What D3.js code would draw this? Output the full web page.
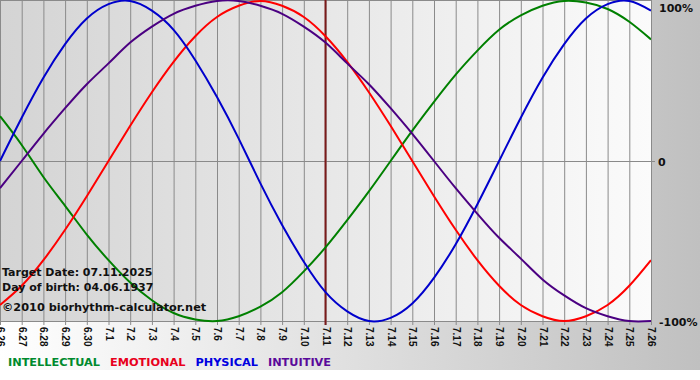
<!DOCTYPE html>
<head>
    <meta charset="utf-8">
    <title>Biorhythm</title>
    <script src="https://cdnjs.cloudflare.com/ajax/libs/d3/7.8.5/d3.min.js"></script>
    <style>
        body { margin: 0; background: #fff; }
        svg { display: block; font-family: "DejaVu Sans", Verdana, sans-serif; }
        .tick line { stroke: #8a8a8a; }
        .tick text { font-size: 10px; font-weight: bold; fill: #111; }
        .lbl { font-weight: bold; font-size: 11px; fill: #111; }
    </style>
</head>
<body>
    <div id="container"></div>
    <script>
        //------------------------DATA------------------------//
        var days = ["6.26", "6.27", "6.28", "6.29", "6.30", "7.1", "7.2", "7.3", "7.4", "7.5", "7.6", "7.7", "7.8", "7.9", "7.10",
            "7.11", "7.12", "7.13", "7.14", "7.15", "7.16", "7.17", "7.18", "7.19", "7.20", "7.21", "7.22", "7.23", "7.24", "7.25", "7.26"]
        var target = "7.11"

        var intellectual = [0.28, 0.10, -0.10, -0.28, -0.46, -0.62, -0.76, -0.87, -0.95, -0.99, -1.00, -0.97, -0.91, -0.82, -0.69, -0.54,
            -0.37, -0.19, 0.00, 0.19, 0.37, 0.54, 0.69, 0.82, 0.91, 0.97, 1.00, 0.99, 0.95, 0.87, 0.76]
        var emotional = [-0.90, -0.78, -0.62, -0.43, -0.22, 0.00, 0.22, 0.43, 0.62, 0.78, 0.90, 0.97, 1.00, 0.97, 0.90, 0.78,
            0.62, 0.43, 0.22, 0.00, -0.22, -0.43, -0.62, -0.78, -0.90, -0.97, -1.00, -0.97, -0.90, -0.78, -0.62]
        var physical = [0.00, 0.27, 0.52, 0.73, 0.89, 0.98, 1.00, 0.94, 0.82, 0.63, 0.40, 0.14, -0.14, -0.40, -0.63, -0.82,
            -0.94, -1.00, -0.98, -0.89, -0.73, -0.52, -0.27, 0.00, 0.27, 0.52, 0.73, 0.89, 0.98, 1.00, 0.94]
        var intuitive = [-0.17, 0.00, 0.17, 0.33, 0.48, 0.61, 0.74, 0.84, 0.92, 0.97, 1.00, 1.00, 0.97, 0.92, 0.84, 0.74,
            0.61, 0.48, 0.33, 0.17, 0.00, -0.17, -0.33, -0.48, -0.61, -0.74, -0.84, -0.92, -0.97, -1.00, -1.00]

        var seriesNames = ["INTELLECTUAL", "EMOTIONAL", "PHYSICAL", "INTUITIVE"]
        var seriesValues = [intellectual, emotional, physical, intuitive]
        var yTicks = [1, 0, -1]
        var yTickLabels = ["100%", "0", "-100%"]
        var infoLines = ["Target Date: 07.11.2025", "Day of birth: 04.06.1937", "\u00a92010 biorhythm-calculator.net"]

        //------------------------SETUP------------------------//
        var W = 700, H = 380,
            plotW = 651, plotH = 321,
            colors = ["#008000", "#ff0000", "#0000cc", "#4b0082"],
            legendColors = ["#008a2e", "#e8001c", "#0000e0", "#5a0a9a"]

        var svg = d3.select("#container").append("svg").attr("width", W).attr("height", H)
        var defs = svg.append("defs")

        var outer = defs.append("linearGradient").attr("id", "outerGrad")
        outer.append("stop").attr("offset", "0%").attr("stop-color", "#ffffff")
        outer.append("stop").attr("offset", "100%").attr("stop-color", "#c0c0c0")

        var inner = defs.append("linearGradient").attr("id", "innerGrad")
        inner.append("stop").attr("offset", "0%").attr("stop-color", "#d4d4d4")
        inner.append("stop").attr("offset", "100%").attr("stop-color", "#fbfbfb")

        svg.append("rect").attr("width", W).attr("height", 370).attr("fill", "url(#outerGrad)")
        svg.append("rect").attr("width", plotW).attr("height", plotH).attr("fill", "url(#innerGrad)")

        var x = d3.scaleLinear().domain([0, days.length - 1]).range([0, plotW])
        var y = d3.scaleLinear().domain([-1, 1]).range([plotH, 1])

        //------------------------AXES------------------------//
        var xaxis = d3.axisBottom(x)
            .tickValues(d3.range(days.length))
            .tickFormat(function (d) { return days[d]; })
            .tickSize(-(plotH + 4))

        var gx = svg.append("g").attr("transform", "translate(0," + (plotH + 4) + ")").call(xaxis)
        gx.select(".domain").remove()
        gx.selectAll(".tick text")
            .attr("transform", "rotate(90)")
            .attr("x", 2).attr("y", 0).attr("dy", "0.35em")
            .style("text-anchor", "start")

        // frame + zero line
        svg.append("line").attr("x1", 0).attr("x2", plotW).attr("y1", 0.5).attr("y2", 0.5).attr("stroke", "#8a8a8a")
        svg.append("line").attr("x1", 0).attr("x2", plotW).attr("y1", plotH + 0.5).attr("y2", plotH + 0.5).attr("stroke", "#8a8a8a")
        svg.append("line").attr("x1", 0).attr("x2", plotW + 4).attr("y1", y(0) + 0.5).attr("y2", y(0) + 0.5).attr("stroke", "#8a8a8a")

        svg.selectAll(".ylab")
            .data(yTicks)
            .enter()
            .append("text")
            .attr("class", "lbl")
            .attr("x", function (d) { return d === 0 ? plotW + 7 : plotW + 8; })
            .attr("y", function (d) { return d === 1 ? y(d) + 11 : y(d) + 5; })
            .text(function (d, i) { return yTickLabels[i]; })

        // target day
        var ti = days.indexOf(target)
        svg.append("line")
            .attr("x1", x(ti)).attr("x2", x(ti))
            .attr("y1", 0).attr("y2", plotH + 4)
            .attr("stroke", "#7a1a1a").attr("stroke-width", 2)

        //------------------------LINES------------------------//
        var line = d3.line()
            .x(function (d, i) { return x(i); })
            .y(function (d) { return y(d); })
            .curve(d3.curveNatural)

        var plot = svg.append("g")
        plot.append("clipPath").attr("id", "clip")
            .append("rect").attr("x", 0).attr("y", -2).attr("width", plotW).attr("height", plotH + 4)

        plot.selectAll(".bio")
            .data(seriesValues)
            .enter()
            .append("path")
            .attr("class", "bio")
            .attr("clip-path", "url(#clip)")
            .attr("d", line)
            .attr("fill", "none")
            .attr("stroke-width", 2)
            .attr("stroke", function (d, i) { return colors[i]; })

        //------------------------TEXT------------------------//
        svg.selectAll(".info")
            .data(infoLines)
            .enter()
            .append("text")
            .attr("class", "lbl")
            .attr("x", 2)
            .attr("y", function (d, i) { return [276, 291, 311][i]; })
            .style("font-size", function (d, i) { return i == 2 ? "11.3px" : "11px"; })
            .text(function (d) { return d; })

        var lx = 8
        seriesNames.forEach(function (name, i) {
            var t = svg.append("text")
                .attr("x", lx).attr("y", 366)
                .style("font-weight", "bold").style("font-size", "11.3px")
                .attr("fill", legendColors[i])
                .text(name)
            lx += t.node().getComputedTextLength() + 10
        })
    </script>
</body>
